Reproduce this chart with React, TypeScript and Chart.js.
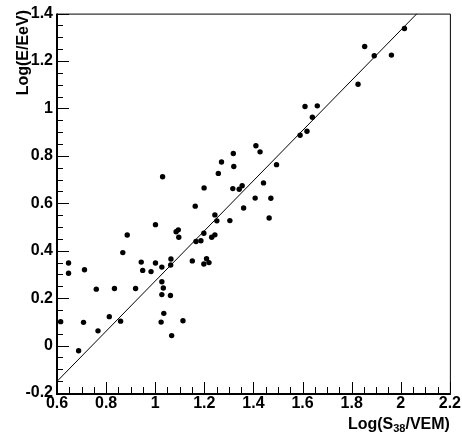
import React, { useEffect, useRef } from "react";
import { Chart, registerables } from "chart.js";

Chart.register(...registerables);

// Log(S38/VEM) of each event
const logS38: number[] = [
  0.615, 0.647, 0.647, 0.712, 0.708, 0.688, 0.760, 0.767, 0.813, 0.834,
  0.859, 0.868, 0.886, 0.920, 0.943, 0.949, 0.983, 1.001, 1.001, 1.027,
  1.027, 1.033, 1.027, 1.024, 1.035, 1.062, 1.067, 1.064, 1.063, 1.085,
  1.094, 1.096, 1.113, 1.151, 1.163, 1.166, 1.186, 1.198, 1.198, 1.209,
  1.219, 1.230, 1.243, 1.243, 1.251, 1.304, 1.360, 1.407, 1.471, 1.464,
  1.030, 1.199, 1.257, 1.270, 1.318, 1.320, 1.316, 1.342, 1.354, 1.410,
  1.427, 1.441, 1.494, 1.590, 1.618, 1.640, 1.610, 1.660, 1.826, 1.853,
  1.892, 1.962, 2.015,
];
// Log(E/EeV) of each event
const logE: number[] = [
  0.101, 0.348, 0.305, 0.320, 0.098, -0.022, 0.238, 0.062, 0.122, 0.241,
  0.103, 0.392, 0.466, 0.241, 0.352, 0.317, 0.312, 0.510, 0.348, 0.331,
  0.269, 0.243, 0.215, 0.099, 0.136, 0.211, 0.042, 0.365, 0.340, 0.480,
  0.488, 0.457, 0.105, 0.357, 0.588, 0.439, 0.442, 0.474, 0.344, 0.366,
  0.350, 0.457, 0.467, 0.551, 0.526, 0.527, 0.580, 0.622, 0.621, 0.538,
  0.712, 0.665, 0.726, 0.774, 0.810, 0.755, 0.662, 0.659, 0.674, 0.843,
  0.817, 0.686, 0.763, 0.887, 0.904, 0.963, 1.008, 1.011, 1.102, 1.261,
  1.222, 1.225, 1.337,
];
// calibration fit line
const fitX: number[] = [0.6, 2.066];
const fitY: number[] = [-0.151, 1.4];

const xMin = 0.6, xMax = 2.2;
const yMin = -0.2, yMax = 1.4;
const majorStep = 0.2;
const minorStep = 0.05;

const xTitleMain = "Log(S";
const xTitleSub = "38";
const xTitleEnd = "/VEM)";
const yTitle = "Log(E/EeV)";

const FONT = '"Liberation Sans", Arial, Helvetica, sans-serif';

const fmt = (v: number | string) => String(+Number(v).toFixed(2));

const rootFrame = {
  id: "rootFrame",
  afterDraw(chart: any) {
    const { ctx, chartArea } = chart;
    const { left, right, top, bottom } = chartArea;
    const xs = chart.scales.x;
    const ys = chart.scales.y;
    ctx.save();
    ctx.strokeStyle = "#000";
    // frame
    ctx.lineWidth = 1;
    ctx.beginPath();
    ctx.moveTo(left, top + 0.5);
    ctx.lineTo(right + 0.5, top + 0.5);
    ctx.lineTo(right + 0.5, bottom);
    ctx.stroke();
    // axis lines
    ctx.lineWidth = 2;
    ctx.beginPath();
    ctx.moveTo(left, top);
    ctx.lineTo(left, bottom + 1);
    ctx.lineTo(right + 1, bottom + 1);
    ctx.stroke();
    // ticks
    ctx.lineWidth = 1;
    ctx.beginPath();
    const nx = Math.round((xMax - xMin) / minorStep);
    for (let i = 0; i <= nx; i++) {
      const v = xMin + i * minorStep;
      const major = i % Math.round(majorStep / minorStep) === 0;
      const px = Math.round(xs.getPixelForValue(v)) + 0.5;
      const len = major ? 11 : 6;
      ctx.moveTo(px, bottom);
      ctx.lineTo(px, bottom - len);
    }
    const ny = Math.round((yMax - yMin) / minorStep);
    for (let i = 0; i <= ny; i++) {
      const v = yMin + i * minorStep;
      const major = i % Math.round(majorStep / minorStep) === 0;
      const py = Math.round(ys.getPixelForValue(v)) + 0.5;
      const len = major ? 12 : 6;
      ctx.moveTo(left, py);
      ctx.lineTo(left + len, py);
    }
    ctx.stroke();

    // titles
    ctx.fillStyle = "#000";
    ctx.textBaseline = "alphabetic";
    ctx.textAlign = "left";
    const mainFont = `bold 16px ${FONT}`;
    const subFont = `bold 11px ${FONT}`;
    ctx.font = mainFont;
    const w1 = ctx.measureText(xTitleMain).width;
    const w3 = ctx.measureText(xTitleEnd).width;
    ctx.font = subFont;
    const w2 = ctx.measureText(xTitleSub).width;
    const sx = right - (w1 + w2 + w3);
    const base = 429;
    ctx.font = mainFont;
    ctx.fillText(xTitleMain, sx, base);
    ctx.font = subFont;
    ctx.fillText(xTitleSub, sx + w1, base + 3);
    ctx.font = mainFont;
    ctx.fillText(xTitleEnd, sx + w1 + w2, base);

    ctx.translate(28, 10);
    ctx.rotate(-Math.PI / 2);
    ctx.textAlign = "right";
    ctx.fillText(yTitle, 0, 0);
    ctx.restore();
  },
};

export default function App() {
  const ref = useRef<HTMLCanvasElement | null>(null);
  useEffect(() => {
    if (!ref.current) return;
    const points = logS38.map((x, i) => ({ x, y: logE[i] }));
    const line = fitX.map((x, i) => ({ x, y: fitY[i] }));
    const chart = new Chart(ref.current, {
      type: "scatter",
      data: {
        datasets: [
          {
            type: "line",
            data: line,
            borderColor: "#000",
            borderWidth: 1,
            pointRadius: 0,
            fill: false,
          } as any,
          {
            data: points,
            backgroundColor: "#000",
            borderWidth: 0,
            pointRadius: 2.7,
          },
        ],
      },
      options: {
        animation: false,
        responsive: false,
        layout: { padding: { top: 12, right: 11, left: 0, bottom: 0 } },
        plugins: {
          legend: { display: false },
          tooltip: { enabled: false },
        },
        scales: {
          x: {
            type: "linear",
            min: xMin,
            max: xMax,
            grid: { display: false, drawTicks: false },
            border: { display: false },
            ticks: {
              stepSize: majorStep,
              padding: 1,
              color: "#000",
              font: { family: FONT, size: 16, weight: "bold" },
              callback: (v: any) => fmt(v),
              maxRotation: 0,
            },
            afterFit: (s: any) => {
              s.height = 46;
            },
          },
          y: {
            type: "linear",
            min: yMin,
            max: yMax,
            grid: { display: false, drawTicks: false },
            border: { display: false },
            ticks: {
              stepSize: majorStep,
              padding: 4,
              color: "#000",
              font: { family: FONT, size: 16, weight: "bold" },
              callback: (v: any) => fmt(v),
            },
            afterFit: (s: any) => {
              s.width = 57;
            },
          },
        },
      },
      plugins: [rootFrame],
    });
    return () => chart.destroy();
  }, []);
  return (
    <div style={{ position: "fixed", left: 0, top: 0, width: 462, height: 439, background: "#fff" }}>
      <canvas ref={ref} width={462} height={439} style={{ display: "block" }} />
    </div>
  );
}
